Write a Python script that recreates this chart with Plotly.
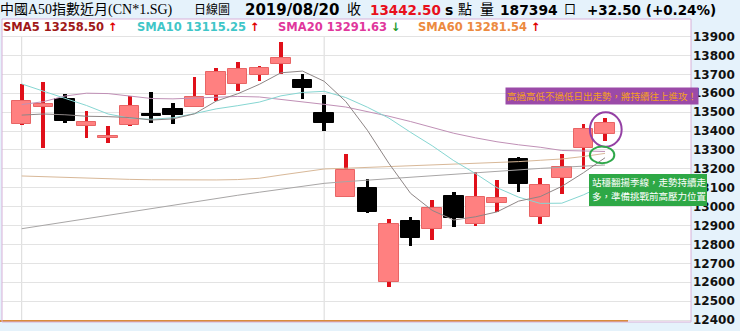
import plotly.graph_objects as go

# ---------------- data ----------------
idx = list(range(28))
opens = [13437, 13529, 13569, 13428, 13365, 13432, 13488, 13516, 13525, 13590, 13647, 13696, 13753, 13670,
         13497, 13052, 13097, 12600, 12925, 12880, 13058, 12906, 13021, 13252, 12947, 13153, 13308, 13383]
closes = [13559, 13543, 13455, 13448, 13375, 13532, 13481, 13485, 13582, 13711, 13726, 13732, 13788, 13626,
          13441, 13194, 12970, 12910, 12834, 12994, 12938, 13052, 13044, 13118, 13114, 13208, 13409, 13442.5]
highs = [13649, 13661, 13594, 13506, 13427, 13587, 13605, 13547, 13687, 13735, 13767, 13746, 13872, 13700,
         13590, 13277, 13146, 12934, 12947, 13035, 13079, 13181, 13141, 13262, 13153, 13278, 13435, 13470]
lows = [13432, 13312, 13444, 13365, 13338, 13426, 13444, 13437, 13525, 13560, 13612, 13666, 13703, 13569,
        13400, 13050, 12965, 12573, 12793, 12823, 12892, 12900, 12973, 13076, 12908, 13067, 13199, 13347]

sma5 = [13484, 13490, 13486, 13478, 13476, 13471, 13458, 13464, 13491, 13558, 13597, 13647, 13708, 13717,
        13663, 13556, 13404, 13228, 13070, 12980, 12929, 12946, 12972, 13029, 13053, 13107, 13179, 13258.5]
sma10 = [13649, 13610, 13575, 13535, 13490, 13468, 13462, 13470, 13492, 13517, 13534, 13553, 13586, 13604,
         13610, 13577, 13526, 13468, 13393, 13322, 13243, 13175, 13100, 13050, 13017, 13018, 13062, 13115.25]
sma20 = [13540, 13555, 13585, 13600, 13598, 13585, 13572, 13570, 13575, 13580, 13583, 13580, 13568, 13553,
         13541, 13527, 13504, 13478, 13450, 13419, 13388, 13364, 13343, 13327, 13314, 13297, 13294, 13291.63]
sma60 = [13162, 13158, 13153, 13149, 13146, 13144, 13142, 13141, 13140, 13141, 13143, 13150, 13167, 13183,
         13199, 13203, 13207, 13212, 13216, 13220, 13224, 13228, 13232, 13238, 13245, 13252, 13265, 13281.54]
long_ma = [12883, 12901, 12918, 12936, 12954, 12972, 12989, 13007, 13025, 13042, 13060, 13076, 13092, 13107,
           13123, 13132, 13140, 13148, 13157, 13165, 13174, 13182, 13190, 13196, 13202, 13208, 13214, 13220]

ytick_vals = list(range(12400, 14000, 100))
ytick_text = [str(v) for v in ytick_vals]

note_top = "高過高低不過低日出走勢，將持續往上進攻！"
note_bottom = ["站穩翻揚季線，走勢持續走", "多，準備挑戰前高壓力位置"]

# ---------------- styles ----------------
UP_BODY = "#ff8080"
UP_EDGE = "#e86565"
UP_WICK = "#e0101a"
DN = "#000000"
BG = "#e5f2fb"

W, H = 740, 331
L, R, T, B = 2, 691, 19, 322


def xp(px):
    return (px - L) / (R - L)


def yp(py):
    return (B - py) / (B - T)


fig = go.Figure()

# moving-average lines
for vals, col in [(long_ma, "#a8a6a6"), (sma60, "#d8b898"), (sma20, "#c090b6"),
                  (sma10, "#86d6d2"), (sma5, "#8e8686")]:
    fig.add_trace(go.Scatter(x=idx, y=vals, mode="lines", line=dict(color=col, width=1),
                             hoverinfo="skip", showlegend=False))

up = [c >= o for o, c in zip(opens, closes)]

# wicks
fig.add_trace(go.Bar(
    x=idx, y=[h - l for h, l in zip(highs, lows)], base=lows, width=0.17,
    marker=dict(color=[UP_WICK if u else DN for u in up], line=dict(width=0)),
    hoverinfo="skip", showlegend=False))

# bodies
fig.add_trace(go.Bar(
    x=idx, y=[max(abs(c - o), 3) for o, c in zip(opens, closes)],
    base=[min(o, c) for o, c in zip(opens, closes)], width=0.9,
    marker=dict(color=[UP_BODY if u else DN for u in up],
                line=dict(color=[UP_EDGE if u else DN for u in up], width=1)),
    hoverinfo="skip", showlegend=False))

shapes = []
# vertical grid lines
for gx in [0, 14]:
    shapes.append(dict(type="line", xref="x", yref="paper", x0=gx, x1=gx, y0=0, y1=yp(36.5),
                       line=dict(color="#d9d9d9", width=1), layer="below"))
# bottom orange line
shapes.append(dict(type="line", xref="paper", yref="paper", x0=xp(0), x1=xp(628), y0=yp(321), y1=yp(321),
                   line=dict(color="#d98c3c", width=2)))
# plot border
shapes.append(dict(type="rect", xref="paper", yref="paper", x0=0, x1=1, y0=0, y1=1,
                   line=dict(color="#d8b0d8", width=1)))
# ellipses
n = idx[-1]
shapes.append(dict(type="circle", xref="x", yref="y", x0=n - 0.7, x1=n + 0.77,
                   y0=lows[-1] - 30, y1=highs[-1] + 29, line=dict(color="#9440a4", width=2)))
shapes.append(dict(type="circle", xref="x", yref="y", x0=n - 0.7, x1=n + 0.43,
                   y0=sma60[-1] - 52, y1=sma60[-1] + 36, line=dict(color="#2fa84a", width=2)))
# green note background
shapes.append(dict(type="rect", xref="paper", yref="paper", x0=xp(589), x1=xp(707), y0=yp(206), y1=yp(174),
                   fillcolor="#2ea846", line=dict(width=0), layer="above"))

ann = []
CJK = "Liberation Serif, Noto Sans CJK TC"
BOLD = "DejaVu Sans"


def txt(px, py, text, size, color="#000", family=BOLD, bold=True):
    ann.append(dict(xref="paper", yref="paper", x=xp(px), y=yp(py), xanchor="left", yanchor="middle",
                    text=("<b>%s</b>" % text) if bold else text, showarrow=False,
                    font=dict(family=family, size=size, color=color), borderpad=0))


# title row
txt(-1, 10, "中國A50指數近月(CN*1.SG)", 14, family=CJK, bold=False)
txt(193, 10, "日線圖", 12, family=CJK, bold=False)
txt(244, 10, "2019/08/20", 15)
txt(346, 10, "收", 14, family=CJK, bold=False)
txt(369, 10, "13442.50", 13.5, color="#e8101c")
txt(444, 10, "s", 14)
txt(457, 10, "點", 14, family=CJK, bold=False)
txt(479, 10, "量", 14, family=CJK, bold=False)
txt(499, 10, "187394", 13.8)
txt(563, 10, "口", 12, family=CJK, bold=False)
txt(586, 10, "+32.50 (+0.24%)", 13.5)

UPA = "<span style='color:#e00000'>↑</span>"
DNA = "<span style='color:#1d9a2a'>↓</span>"
txt(2, 27, "SMA5 13258.50 " + UPA, 11.5, color="#a01818")
txt(136, 27, "SMA10 13115.25 " + UPA, 11.5, color="#3fc6c8")
txt(277, 27, "SMA20 13291.63 " + DNA, 11.5, color="#e0379c")
txt(417, 27, "SMA60 13281.54 " + UPA, 11.5, color="#ec8a40")

# commentary boxes
ann.append(dict(xref="paper", yref="paper", x=xp(505), y=yp(95.5), xanchor="left", yanchor="middle",
                text=note_top, showarrow=False,
                font=dict(family="Noto Sans CJK TC", size=9.5, color="#f5a020"),
                bgcolor="#9b4aa8", borderpad=1))
for k, line in enumerate(note_bottom):
    ann.append(dict(xref="paper", yref="paper", x=xp(591), y=yp(181.5 + 15 * k), xanchor="left",
                    yanchor="middle", text=line, showarrow=False,
                    font=dict(family="Noto Sans CJK TC", size=9.5, color="#ffffff"), borderpad=0))

fig.update_layout(
    width=W, height=H,
    margin=dict(l=L, r=W - R, t=T, b=H - B, pad=0),
    paper_bgcolor=BG, plot_bgcolor="#ffffff",
    barmode="overlay", bargap=0,
    showlegend=False,
    shapes=shapes, annotations=ann,
    xaxis=dict(range=[-0.912, 30.98], visible=False, showgrid=False, zeroline=False, fixedrange=True),
    yaxis=dict(range=[12389.4, 13992.6], side="right", tickvals=ytick_vals, ticktext=ytick_text,
               showgrid=True, gridcolor="#e3e3e3", gridwidth=1, zeroline=False, ticks="",
               tickfont=dict(family="DejaVu Sans", size=12, color="#111", weight="bold"),
               ticklabelstandoff=1, showline=False, fixedrange=True),
)

fig.write_html("out.html")
